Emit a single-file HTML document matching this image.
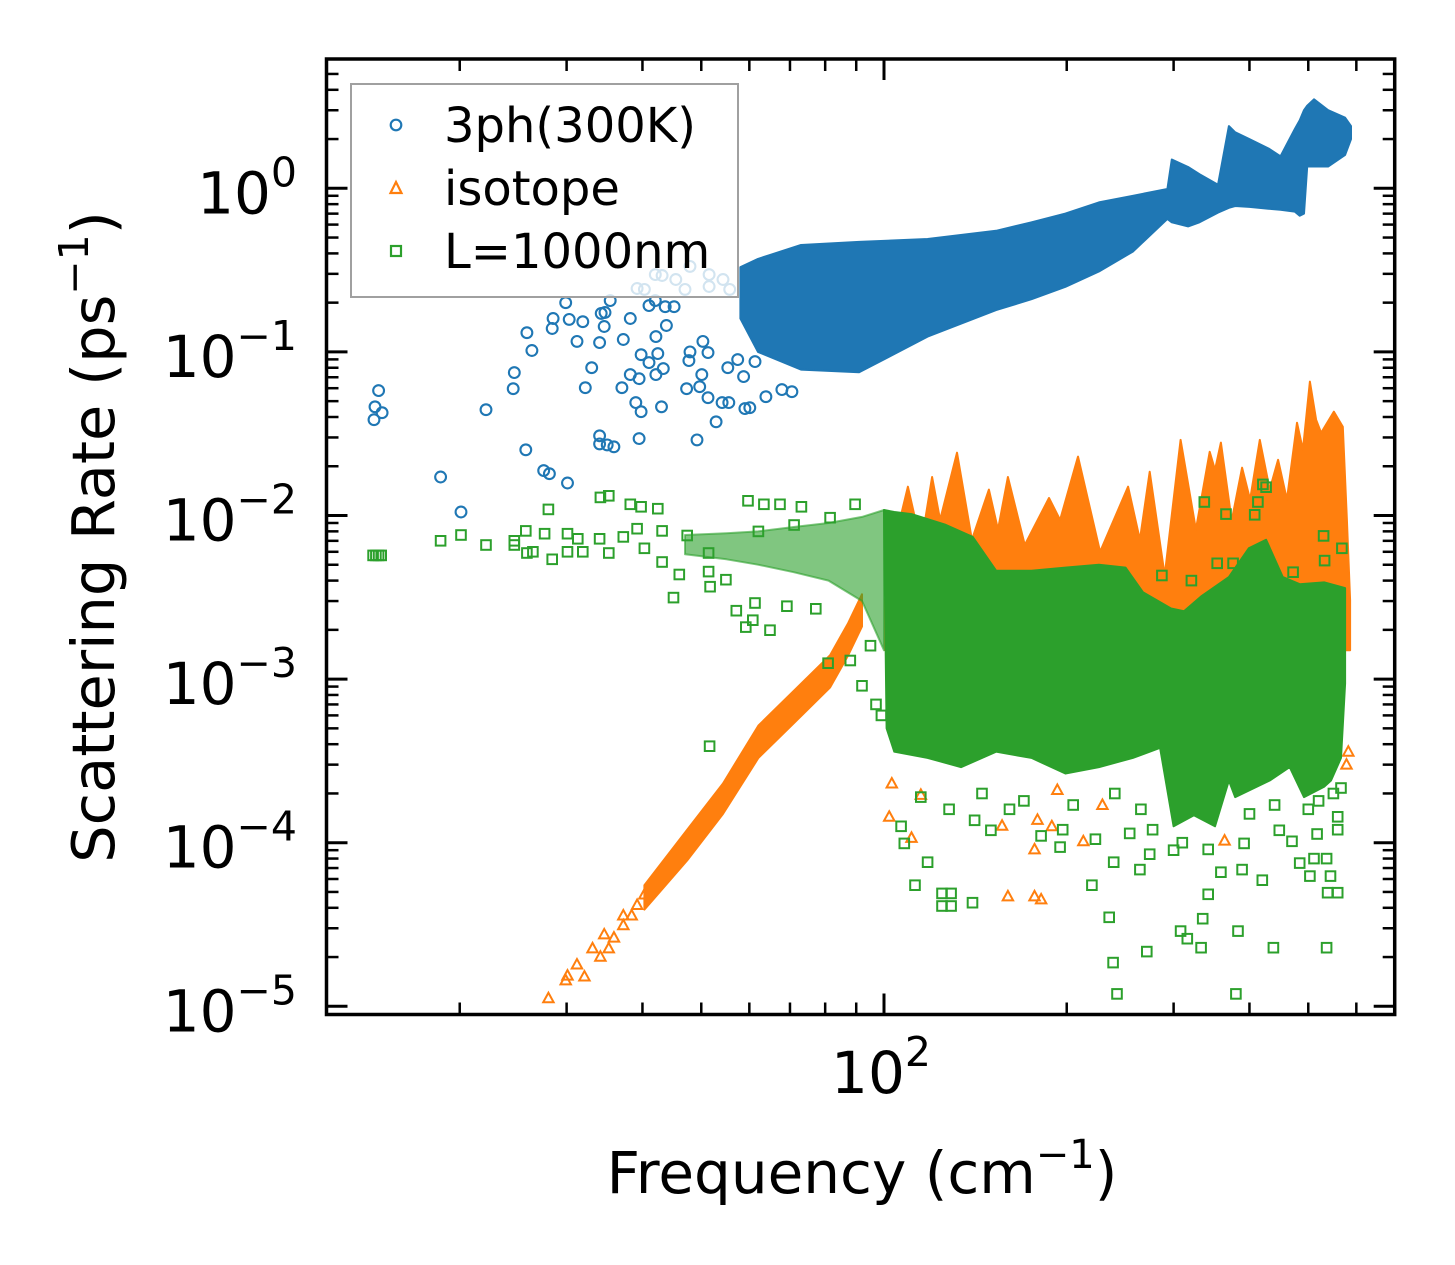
<!DOCTYPE html>
<html><head><meta charset="utf-8"><title>Scattering rate vs frequency</title>
<style>
html,body{margin:0;padding:0;background:#fff;}
svg{display:block;font-family:"DejaVu Sans","Liberation Sans",sans-serif;}
</style></head>
<body>
<svg id="chart" xmlns="http://www.w3.org/2000/svg" width="1455" height="1265" viewBox="0 0 1455 1265">
<rect x="0" y="0" width="1455" height="1265" fill="#fff"/>
<defs><clipPath id="plotclip"><rect x="326.5" y="59" width="1068.2" height="955.5"/></clipPath></defs>
<g id="marks" clip-path="url(#plotclip)"></g>
<g id="axes"></g>
<g id="legend">
  <rect x="351" y="84" width="387" height="213" fill="#fff" fill-opacity="0.8" stroke="#a0a0a0" stroke-width="2"/>
  <circle cx="396" cy="125" r="5.3" fill="none" stroke="#1f77b4" stroke-width="2.2"/>
  <text x="444" y="142" font-size="48" fill="#000">3ph(300K)</text>
  <path d="M396,182 L401.5,193 L390.5,193 Z" fill="none" stroke="#ff7f0e" stroke-width="2.2"/>
  <text x="444" y="205" font-size="48" fill="#000">isotope</text>
  <rect x="391" y="246" width="10" height="10" fill="none" stroke="#2ca02c" stroke-width="2.2"/>
  <text x="444" y="268" font-size="48" fill="#000">L=1000nm</text>
</g>
<text x="862" y="1193" font-size="58" text-anchor="middle">Frequency (cm<tspan font-size="40" dy="-25">−1</tspan><tspan dy="25">)</tspan></text>
<text transform="translate(114,537) rotate(-90)" font-size="59" text-anchor="middle">Scattering Rate (ps<tspan font-size="41" dy="-26">−1</tspan><tspan dy="26">)</tspan></text>
</svg>
<script>
// ---------- data ----------
const blueF = [14.45,14.5,14.9,14.7,18.6,20.1,22.1,24.5,24.6,25.7,25.8,26.3,27.5,28.1,30.1,28.4,28.5,29.9,30.3,31.9,31.2,32.2,33.0,34.0,34.2,34.7,34.6,35.4,34.0,34.0,35.0,35.9,37.2,38.2,37.0,38.2,39.5,39.0,39.8,39.5,43.0,39.8,41.0,42.4,42.1,43.3,42.1,43.8,41.0,42.0,43.6,45.1,47.9,47.7,50.3,51.3,47.3,49.7,50.1,51.3,49.2,52.9,54.1,55.5,59.0,60.1,63.9,67.9,70.5,58.7,55.3,57.4,61.3,39.2,40.3,42.0,43.1,45.4,47.0,47.9,51.5,51.5,54.3,55.7];
const blueR = [0.0385,0.0462,0.0425,0.058,0.0172,0.0105,0.0443,0.0596,0.0747,0.0252,0.131,0.102,0.0188,0.018,0.0158,0.139,0.160,0.200,0.158,0.153,0.116,0.0604,0.0801,0.114,0.172,0.174,0.143,0.206,0.0307,0.0274,0.027,0.0263,0.119,0.160,0.0604,0.0727,0.0686,0.049,0.0431,0.0295,0.0462,0.0962,0.086,0.0977,0.0727,0.079,0.124,0.145,0.192,0.206,0.189,0.189,0.100,0.0885,0.116,0.099,0.0596,0.0613,0.0727,0.0525,0.029,0.0374,0.049,0.049,0.045,0.0456,0.0532,0.0588,0.0571,0.0706,0.0801,0.0897,0.0872,0.244,0.241,0.297,0.293,0.277,0.241,0.333,0.297,0.251,0.277,0.241];
const blueBandF  = [58,62,73,91,118,153,175,199,226,257,293,298,317,331,355,370,379,400,430,450,475,484,492,498,511,539,575,588];
const blueBandHi = [0.33,0.37,0.45,0.47,0.49,0.55,0.62,0.70,0.82,0.90,0.99,1.5,1.35,1.22,1.05,2.4,2.2,2.0,1.75,1.57,2.3,2.6,3.0,3.2,3.5,3.0,2.7,2.4];
const blueBandLo = [0.16,0.10,0.078,0.075,0.124,0.18,0.21,0.25,0.31,0.41,0.65,0.62,0.585,0.62,0.71,0.76,0.78,0.77,0.75,0.74,0.72,0.68,0.70,1.36,1.36,1.36,1.6,2.0];
const isoF = [28.0,29.9,30.1,31.2,32.1,33.1,34.1,34.6,35.2,35.9,37.2,37.2,38.4,39.2,40.3];
const isoR = [1.12e-5,1.44e-5,1.54e-5,1.80e-5,1.52e-5,2.26e-5,2.01e-5,2.75e-5,2.26e-5,2.63e-5,3.13e-5,3.59e-5,3.59e-5,4.16e-5,4.82e-5];
const isoBandF  = [40.3,47.4,54.3,62.1,71.1,81.5,87.3,92];
const isoBandHi = [5.5e-5,1.2e-4,2.3e-4,5.2e-4,8.5e-4,1.4e-3,2.2e-3,3.3e-3];
const isoBandLo = [3.9e-5,7.8e-5,1.5e-4,3.3e-4,5.4e-4,8.9e-4,1.4e-3,2.1e-3];
const isoSpikeF = [100.4,104.3,109.5,115.1,120,123.7,131.9,139.6,148.9,154.1,160,170.6,187,195,208.7,227,252.4,264,274,290,308,326.5,344,351,359,374,389,401,416,432,446,461,479,490,503,515,525,551,570,579,586];
const isoSpikeR = [3.04e-3,7.1e-3,0.0150,6.6e-3,0.0172,9.4e-3,0.0242,7.1e-3,0.0144,8.2e-3,0.0172,6.6e-3,0.0128,9.4e-3,0.0229,6.0e-3,0.0150,7.1e-3,0.0185,4.3e-3,0.029,8.2e-3,0.0245,0.019,0.0279,9.3e-3,0.0196,0.0125,0.029,0.0144,0.0219,0.0125,0.0369,0.0252,0.0658,0.0385,0.032,0.0431,0.0349,9.4e-3,3.04e-3];
const isoSpikeBase = 1.5e-3;
const isoOutF = [102,111,160,177,181.5,177,179,156.5,213,189,364,582,578,103,115,193,229];
const isoOutR = [1.44e-4,1.07e-4,4.7e-5,4.7e-5,4.5e-5,9.1e-5,1.38e-4,1.27e-4,1.02e-4,1.26e-4,1.03e-4,3.6e-4,3.0e-4,2.3e-4,1.96e-4,2.1e-4,1.7e-4];
const bndF = [14.4,14.55,14.7,14.85,18.6,20.1,22.1,24.6,24.6,25.7,25.8,26.4,27.6,28.0,28.4,30.1,30.1,31.9,31.3,34.1,35.2,34.0,35.2,38.2,39.8,42.4,37.2,39.2,40.3,43.1,43.1,46.0,45.0,47.4,51.4,51.4,51.7,54.9,57.1,59.2,60.8,64.9,59.7,63.4,67.4,73.1,61.3,69.2,77.2,62.1,71.1,81.5,89.6,51.6,80.9,92,88,95,97,99,
118,112.5,124.6,129,124.6,129,139.9,220,235,238.5,242,271,264,274,239,308,316,335,333,359,342,383,380,389,420,438,484,503,511,536,544,538,559,536,
337,421,426,413,408,366,287,321,530,568,532,354,376,472,
106.7,108,141,150,161,181.5,197,195,223,254,277,342,392,448,470,517,559,559,566,
115,128,145,170,205,240,265,300,310,400,440,500,520,550];
const bndR = [5.7e-3,5.7e-3,5.7e-3,5.7e-3,7.0e-3,7.6e-3,6.6e-3,7.0e-3,6.6e-3,8.05e-3,5.9e-3,6.0e-3,7.74e-3,0.0109,5.4e-3,7.74e-3,6.0e-3,6.0e-3,7.2e-3,0.0129,0.0132,7.2e-3,5.9e-3,0.0117,0.0113,0.011,7.4e-3,8.3e-3,6.3e-3,8.05e-3,5.2e-3,4.36e-3,3.15e-3,7.55e-3,5.9e-3,4.54e-3,3.67e-3,4.05e-3,2.62e-3,2.08e-3,2.29e-3,1.99e-3,0.0123,0.0117,0.0117,0.0113,2.92e-3,2.79e-3,2.69e-3,8.0e-3,8.75e-3,9.7e-3,0.0117,3.89e-4,1.25e-3,9.1e-4,1.3e-3,1.6e-3,7e-4,6e-4,
7.6e-5,5.5e-5,4.9e-5,4.9e-5,4.1e-5,4.1e-5,4.3e-5,5.5e-5,3.5e-5,1.85e-5,1.19e-5,2.16e-5,6.85e-5,8.5e-5,7.6e-5,2.88e-5,2.59e-5,3.43e-5,2.28e-5,6.6e-5,4.84e-5,2.88e-5,1.19e-5,6.85e-5,5.9e-5,2.28e-5,7.5e-5,6.25e-5,8.0e-5,8.0e-5,6.25e-5,4.95e-5,4.95e-5,2.28e-5,
0.0121,0.0155,0.0149,0.0121,0.0101,0.0102,4.3e-3,4.0e-3,7.5e-3,6.3e-3,5.3e-3,5.1e-3,5.1e-3,4.5e-3,
1.26e-4,9.9e-5,1.37e-4,1.19e-4,1.6e-4,1.1e-4,1.2e-4,9.4e-5,1.05e-4,1.14e-4,1.2e-4,9.1e-5,9.9e-5,1.19e-4,1.02e-4,1.13e-4,1.2e-4,1.44e-4,2.16e-4,
1.9e-4,1.6e-4,2.0e-4,1.8e-4,1.7e-4,2.0e-4,1.6e-4,9e-5,1.0e-4,1.5e-4,1.7e-4,1.6e-4,1.8e-4,2.0e-4];
const bndBandF  = [47,55,62,71,81,92,100];
const bndBandHi = [7.6e-3,7.8e-3,8.0e-3,8.5e-3,9.0e-3,9.8e-3,0.0108];
const bndBandLo = [5.8e-3,5.4e-3,5.0e-3,4.5e-3,4.0e-3,3.0e-3,1.5e-3];
const bndUpF = [100,104,111,126,140,153,175,199,226,250,267,297,312,333,370,399,426,454,484,531,575];
const bndUp  = [0.0108,0.0105,0.0102,0.0088,0.0074,0.0046,0.0046,0.0048,0.005,0.0048,0.0034,0.0027,0.0026,0.0032,0.0042,0.0063,0.0071,0.0042,0.0038,0.0039,0.0036];
const bndLoF = [101,104,118,134,153,175,199,226,257,285,300,324,351,370,379,432,466,492,531,545,566,575];
const bndLo  = [5.0e-4,3.6e-4,3.3e-4,2.9e-4,3.6e-4,3.3e-4,2.65e-4,2.9e-4,3.3e-4,3.8e-4,1.26e-4,1.47e-4,1.26e-4,2.4e-4,1.9e-4,2.4e-4,2.9e-4,1.9e-4,2.2e-4,2.4e-4,3.3e-4,9.4e-4];
const yMajorExps = [0,-1,-2,-3,-4,-5];
const xMajorExps = [2];
const minorMult = [2,3,4,5,6,7,8,9];

// ---------- axes ----------
const X0 = 326.5, X1 = 1394.7, Y0 = 59, Y1 = 1014.5;
const xs = f => 884 + 607 * (Math.log10(f) - 2);
const ys = r => 188.3 - 163.6 * Math.log10(r);
const NS = 'http://www.w3.org/2000/svg';
const marks = document.getElementById('marks');
const axes = document.getElementById('axes');
function mk(tag, attrs, parent) {
  const e = document.createElementNS(NS, tag);
  for (const k in attrs) e.setAttribute(k, attrs[k]);
  parent.appendChild(e);
  return e;
}
const BLUE = '#1f77b4', ORANGE = '#ff7f0e', GREEN = '#2ca02c';

function band(fs, hi, lo, color, name, op) {
  let d = '';
  fs.forEach((f, i) => { d += (i ? 'L' : 'M') + xs(f).toFixed(1) + ',' + ys(hi[i]).toFixed(1); });
  for (let i = fs.length - 1; i >= 0; i--) d += 'L' + xs(fs[i]).toFixed(1) + ',' + ys(lo[i]).toFixed(1);
  d += 'Z';
  const p = mk('path', {d: d, fill: color, stroke: color, 'stroke-width': 2, 'stroke-linejoin': 'round', 'fill-opacity': op || 1, 'stroke-opacity': op || 1}, marks);
  
  
}
function band2(uf, up, lf, lo, color, name) {
  let d = '';
  uf.forEach((f, i) => { d += (i ? 'L' : 'M') + xs(f).toFixed(1) + ',' + ys(up[i]).toFixed(1); });
  for (let i = lf.length - 1; i >= 0; i--) d += 'L' + xs(lf[i]).toFixed(1) + ',' + ys(lo[i]).toFixed(1);
  d += 'Z';
  const p = mk('path', {d: d, fill: color, stroke: color, 'stroke-width': 2, 'stroke-linejoin': 'round'}, marks);
  
  
}
function circles(F, R, name) {
  F.forEach((f, i) => {
    const c = mk('circle', {cx: xs(f).toFixed(1), cy: ys(R[i]).toFixed(1), r: 5.4, fill: 'none', stroke: BLUE, 'stroke-width': 2.1}, marks);
    
    
  });
}
function triangles(F, R, name) {
  F.forEach((f, i) => {
    const x = xs(f), y = ys(R[i]);
    const p = mk('path', {d: `M${x},${y-5.5}L${x+5.2},${y+4}L${x-5.2},${y+4}Z`, fill: 'none', stroke: ORANGE, 'stroke-width': 2}, marks);
    
    
  });
}
function squares(F, R, name) {
  F.forEach((f, i) => {
    const x = xs(f), y = ys(R[i]);
    const s = mk('rect', {x: (x-4.8).toFixed(1), y: (y-4.8).toFixed(1), width: 9.6, height: 9.6, fill: 'none', stroke: GREEN, 'stroke-width': 2}, marks);
    
    
  });
}

band(blueBandF, blueBandHi, blueBandLo, BLUE, '3ph-dense-cloud');
circles(blueF, blueR, '3ph-point');
triangles(isoF, isoR, 'isotope-point');
band(isoBandF, isoBandHi, isoBandLo, ORANGE, 'isotope-diagonal-band');
(function () {
  let d = 'M' + xs(isoSpikeF[0]).toFixed(1) + ',' + ys(isoSpikeBase).toFixed(1);
  isoSpikeF.forEach((f, i) => { d += 'L' + xs(f).toFixed(1) + ',' + ys(isoSpikeR[i]).toFixed(1); });
  d += 'L' + xs(isoSpikeF[isoSpikeF.length - 1]).toFixed(1) + ',' + ys(isoSpikeBase).toFixed(1) + 'Z';
  const p = mk('path', {d: d, fill: ORANGE, stroke: ORANGE, 'stroke-width': 2, 'stroke-linejoin': 'round'}, marks);
  
  
})();
triangles(isoOutF, isoOutR, 'isotope-outlier');
band(bndBandF, bndBandHi, bndBandLo, GREEN, 'boundary-low-freq-band', 0.6);
band2(bndUpF, bndUp, bndLoF, bndLo, GREEN, 'boundary-dense-cloud');
squares(bndF, bndR, 'boundary-point');

const fr = mk('rect', {x: X0, y: Y0, width: X1 - X0, height: Y1 - Y0, fill: 'none', stroke: '#000', 'stroke-width': 3.5}, axes);



function tick(x1, y1, x2, y2, w, name) {
  const l = mk('line', {x1: x1, y1: y1, x2: x2, y2: y2, stroke: '#000', 'stroke-width': w}, axes);
  
  
}
yMajorExps.forEach(e => {
  const y = ys(Math.pow(10, e));
  tick(X0, y, X0 + 21, y, 3, 'y-major-tick');
  tick(X1, y, X1 - 21, y, 3, 'y-major-tick-right');
  const t = mk('text', {x: 297, y: (y + 25).toFixed(1), 'font-size': 58, 'text-anchor': 'end', fill: '#000'}, axes);
  
  
  t.innerHTML = '10<tspan font-size="41" dy="-27">' + (e < 0 ? '−' + (-e) : e) + '</tspan>';
});
for (let e = -6; e <= 0; e++) {
  minorMult.forEach(m => {
    const y = ys(m * Math.pow(10, e));
    if (y > Y0 + 3 && y < Y1 - 3) {
      tick(X0, y, X0 + 12, y, 2.5, 'y-minor-tick');
      tick(X1, y, X1 - 12, y, 2.5, 'y-minor-tick-right');
    }
  });
}
xMajorExps.forEach(e => {
  const x = xs(Math.pow(10, e));
  tick(x, Y1, x, Y1 - 21, 3, 'x-major-tick');
  tick(x, Y0, x, Y0 + 21, 3, 'x-major-tick-top');
  const t = mk('text', {x: x - 3, y: 1093, 'font-size': 58, 'text-anchor': 'middle', fill: '#000'}, axes);
  
  
  t.innerHTML = '10<tspan font-size="41" dy="-27">' + e + '</tspan>';
});
for (let e = 1; e <= 2; e++) {
  minorMult.forEach(m => {
    const x = xs(m * Math.pow(10, e));
    if (x > X0 + 3 && x < X1 - 3) {
      tick(x, Y1, x, Y1 - 12, 2.5, 'x-minor-tick');
      tick(x, Y0, x, Y0 + 12, 2.5, 'x-minor-tick-top');
    }
  });
}
</script>
</body></html>
